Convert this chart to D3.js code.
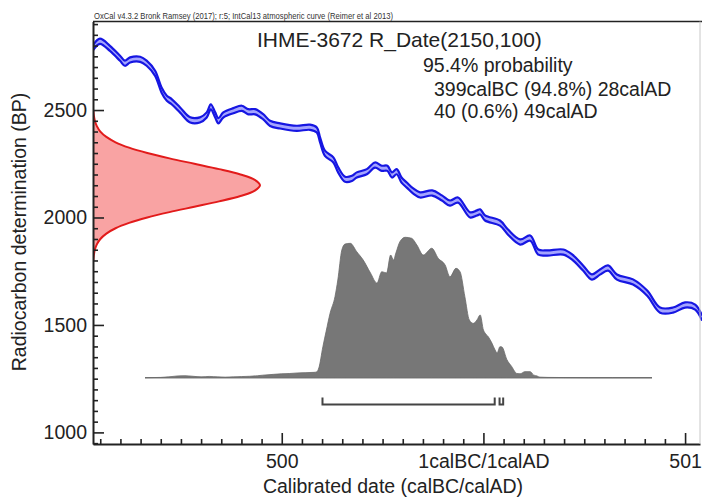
<!DOCTYPE html>
<html>
<head>
<meta charset="utf-8">
<script src="https://cdn.jsdelivr.net/npm/d3@7/dist/d3.min.js"></script>
<style>
  html, body { margin: 0; padding: 0; background: #fff; }
  svg { display: block; font-family: "Liberation Sans", Arial, Helvetica, sans-serif; }
</style>
</head>
<body>
<svg id="chart" width="702" height="504"></svg>
<script>
// ---------- data ----------
const headerText = "OxCal v4.3.2 Bronk Ramsey (2017); r:5; IntCal13 atmospheric curve (Reimer et al 2013)";
const titleText = "IHME-3672 R_Date(2150,100)";
const rangeLines = ["95.4% probability", "399calBC (94.8%) 28calAD", "40 (0.6%) 49calAD"];
const xLabel = "Calibrated date (calBC/calAD)";
const yLabel = "Radiocarbon determination (BP)";

const xTickValues = [-500, 0, 500];
const xTickLabels = ["500", "1calBC/1calAD", "501"];
const yTickValues = [1000, 1500, 2000, 2500];

// IntCal13 calibration curve (calendar year, BP)
const curveYears = [-968, -951, -926, -901, -889, -876, -851, -835, -814, -798, -785, -773, -752, -727, -703, -686, -676, -665, -657, -645, -620, -599, -583, -566, -546, -529, -504, -463, -430, -413, -405, -393, -372, -360, -343, -326, -314, -289, -269, -252, -238, -227, -215, -203, -190, -174, -157, -127, -103, -83, -63, -33, -16, -8, 4, 41, 61, 91, 116, 136, 158, 198, 220, 247, 269, 289, 309, 331, 371, 406, 438, 470, 500, 525, 542];
const curveBP    = [2789, 2820, 2787, 2741, 2718, 2733, 2736, 2718, 2671, 2593, 2555, 2539, 2500, 2454, 2454, 2477, 2515, 2477, 2450, 2477, 2497, 2508, 2492, 2492, 2469, 2438, 2426, 2415, 2420, 2407, 2361, 2299, 2268, 2221, 2178, 2182, 2198, 2213, 2244, 2229, 2229, 2198, 2213, 2174, 2151, 2123, 2105, 2114, 2091, 2067, 2081, 2012, 2021, 2026, 1998, 1974, 1932, 1886, 1904, 1839, 1835, 1839, 1816, 1765, 1723, 1746, 1765, 1723, 1700, 1648, 1569, 1569, 1593, 1583, 1532];
const curveSigma = 12;

// Calibrated probability distribution (calendar year, relative probability)
const distYears = [-839, -800, -780, -760, -740, -720, -700, -680, -660, -640, -620, -600, -580, -560, -547, -520, -500, -480, -460, -440, -420, -413, -408, -398, -390, -380, -368, -361, -351, -343, -330, -314, -298, -280, -264, -252, -240, -230, -223, -217, -207, -194, -178, -165, -149, -128, -112, -95, -83, -68, -58, -46, -35, -25, -16, -8, 0, 4, 12, 21, 29, 34, 41, 46, 58, 70, 83, 91, 103, 116, 124, 133, 140, 160, 200, 260, 320, 380, 418];
const distProb  = [0, 0.002, 0.006, 0.012, 0.014, 0.010, 0.006, 0.009, 0.006, 0.004, 0.006, 0.008, 0.010, 0.014, 0.018, 0.024, 0.028, 0.030, 0.034, 0.036, 0.038, 0.042, 0.070, 0.221, 0.330, 0.461, 0.577, 0.696, 0.910, 0.952, 0.957, 0.897, 0.838, 0.746, 0.674, 0.755, 0.746, 0.874, 0.838, 0.888, 0.969, 1.000, 0.993, 0.945, 0.874, 0.922, 0.850, 0.803, 0.719, 0.779, 0.755, 0.577, 0.411, 0.387, 0.411, 0.447, 0.340, 0.318, 0.292, 0.247, 0.197, 0.176, 0.221, 0.219, 0.130, 0.080, 0.030, 0.028, 0.043, 0.043, 0.020, 0.012, 0.004, 0.002, 0.001, 0, 0, 0, 0];

// Radiocarbon determination R_Date(2150,100), read as relative density per BP
const rdateBP      = [1800, 1825, 1850, 1875, 1900, 1925, 1950, 1975, 2000, 2025, 2050, 2075, 2100, 2125, 2150, 2175, 2200, 2225, 2250, 2275, 2300, 2325, 2350, 2375, 2400, 2425, 2450, 2475, 2500];
const rdateDensity = [0.002, 0.005, 0.011, 0.023, 0.044, 0.080, 0.135, 0.216, 0.325, 0.458, 0.607, 0.755, 0.883, 0.969, 1.000, 0.969, 0.883, 0.755, 0.607, 0.458, 0.325, 0.216, 0.135, 0.080, 0.044, 0.023, 0.011, 0.005, 0.002];

// 95.4% ranges
const rangeStart = [-399, 40];
const rangeEnd   = [28, 49];

// ---------- layout ----------
const W = 702, H = 504;
const plot = { left: 93, top: 21.5, right: 700, bottom: 444 };
const svg = d3.select("#chart");
svg.append("rect").attr("width", W).attr("height", H).attr("fill", "#fff");

const x = d3.scaleLinear().domain([-968, 537]).range([plot.left, plot.right]);
const y = d3.scaleLinear().domain([946, 2912]).range([plot.bottom, plot.top]);
const probY = d3.scaleLinear().domain([0, 1]).range([377.7, 237.3]);
const densX = d3.scaleLinear().domain([0, 1]).range([plot.left, 260]);

svg.append("clipPath").attr("id", "clip")
  .append("rect").attr("x", plot.left).attr("y", plot.top)
  .attr("width", W - plot.left).attr("height", plot.bottom - plot.top);

const g = svg.append("g").attr("clip-path", "url(#clip)");

// red R_Date distribution
const rdate = rdateBP.map((b, i) => ({ bp: b, d: rdateDensity[i] }));
g.append("path").datum(rdate)
  .attr("d", d3.area().y(d => y(d.bp)).x0(plot.left).x1(d => densX(d.d)).curve(d3.curveCatmullRom))
  .attr("fill", "#f9a3a3");
g.append("path").datum(rdate)
  .attr("d", d3.line().y(d => y(d.bp)).x(d => densX(d.d)).curve(d3.curveCatmullRom))
  .attr("fill", "none").attr("stroke", "#e21b1b").attr("stroke-width", 2);

// calibrated distribution
const dist = distYears.map((yr, i) => ({ yr, p: distProb[i] }));
g.append("line")
  .attr("x1", x(distYears[0])).attr("x2", x(distYears[distYears.length - 1]))
  .attr("y1", probY(0)).attr("y2", probY(0))
  .attr("stroke", "#999").attr("stroke-width", 1.4);
g.append("path").datum(dist)
  .attr("d", d3.area().x(d => x(d.yr)).y0(probY(0)).y1(d => probY(d.p)).curve(d3.curveMonotoneX))
  .attr("fill", "#777").attr("stroke", "#6a6a6a").attr("stroke-width", 0.8);

// calibration curve band
const curve = curveYears.map((yr, i) => ({ yr, bp: curveBP[i] }));
const cc = d3.curveCatmullRom.alpha(0.5);
g.append("path").datum(curve)
  .attr("d", d3.area().x(d => x(d.yr)).y0(d => y(d.bp - curveSigma)).y1(d => y(d.bp + curveSigma)).curve(cc))
  .attr("fill", "#a4a4ff");
[curveSigma, -curveSigma].forEach(s => {
  g.append("path").datum(curve)
    .attr("d", d3.line().x(d => x(d.yr)).y(d => y(d.bp + s)).curve(cc))
    .attr("fill", "none").attr("stroke", "#1616e2").attr("stroke-width", 2.2);
});

// range brackets
const by = 404.5, bh = 7;
rangeStart.forEach((s, i) => {
  const x1 = x(s), x2 = x(rangeEnd[i]);
  svg.append("path")
    .attr("d", `M${x1},${by - bh}V${by}H${x2}V${by - bh}`)
    .attr("fill", "none").attr("stroke", "#444").attr("stroke-width", 2);
});

// ---------- axes ----------
const yMinor = d3.range(950, 2901, 50).filter(v => !yTickValues.includes(v));
const xMinor = d3.range(-950, 537, 50).filter(v => !xTickValues.includes(v));

const yAxisMajor = svg.append("g").attr("transform", `translate(${plot.left},0)`)
  .call(d3.axisLeft(y).tickValues(yTickValues).tickFormat(d3.format("d"))
    .tickSize(-11).tickSizeOuter(0).tickPadding(6));
const yAxisMinor = svg.append("g").attr("transform", `translate(${plot.left},0)`)
  .call(d3.axisLeft(y).tickValues(yMinor).tickSize(-5).tickSizeOuter(0).tickFormat(""));
yAxisMinor.select(".domain").remove();

const xAxisMajor = svg.append("g").attr("transform", `translate(0,${plot.bottom})`)
  .call(d3.axisBottom(x).tickValues(xTickValues).tickFormat((d, i) => xTickLabels[i])
    .tickSize(-11).tickSizeOuter(0).tickPadding(10));
const xAxisMinor = svg.append("g").attr("transform", `translate(0,${plot.bottom})`)
  .call(d3.axisBottom(x).tickValues(xMinor).tickSize(-5).tickSizeOuter(0).tickFormat(""));
xAxisMinor.select(".domain").remove();

[yAxisMajor, yAxisMinor, xAxisMajor, xAxisMinor].forEach(a => {
  a.selectAll("line").attr("stroke", "#222").attr("stroke-width", 1.6);
  a.selectAll(".domain").attr("stroke", "#222").attr("stroke-width", 2);
  a.selectAll("text").attr("font-size", "19.5px").attr("fill", "#222")
    .attr("font-family", "'Liberation Sans', Arial, sans-serif");
});

// frame top and right
svg.append("line").attr("x1", plot.left).attr("x2", W).attr("y1", plot.top).attr("y2", plot.top)
  .attr("stroke", "#222").attr("stroke-width", 1.6);
svg.append("line").attr("x1", plot.right).attr("x2", plot.right).attr("y1", plot.top).attr("y2", plot.bottom)
  .attr("stroke", "#c8c8c8").attr("stroke-width", 1);

// ---------- texts ----------
svg.append("text").attr("x", 94).attr("y", 18.5).attr("font-size", "9.5px").attr("fill", "#333")
  .attr("textLength", 299).attr("lengthAdjust", "spacingAndGlyphs").text(headerText);

svg.append("text").attr("x", 257).attr("y", 47).attr("font-size", "21px").attr("fill", "#222").text(titleText);
svg.append("text").attr("x", 423).attr("y", 72).attr("font-size", "19.5px").attr("fill", "#222").text(rangeLines[0]);
svg.append("text").attr("x", 434).attr("y", 96).attr("font-size", "19.5px").attr("fill", "#222").text(rangeLines[1]);
svg.append("text").attr("x", 434).attr("y", 118).attr("font-size", "19.5px").attr("fill", "#222").text(rangeLines[2]);

svg.append("text").attr("x", 393).attr("y", 493).attr("text-anchor", "middle")
  .attr("font-size", "19.5px").attr("fill", "#222").text(xLabel);
svg.append("text").attr("transform", "translate(26,232) rotate(-90)").attr("text-anchor", "middle")
  .attr("font-size", "19.5px").attr("fill", "#222").text(yLabel);
</script>
</body>
</html>
